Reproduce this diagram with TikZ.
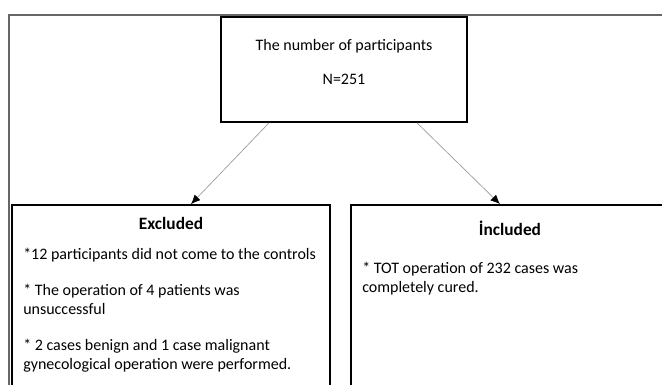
\documentclass[tikz,border=0pt]{standalone}
\usepackage{fontspec}
\setmainfont{Carlito}
\usetikzlibrary{arrows.meta}

\begin{document}
\begin{tikzpicture}[
  x=0.75pt, y=-0.75pt,
  box/.style={rectangle, draw, line width=1.3pt, minimum width=#1, inner sep=0pt},
  body/.style={inner sep=0pt, align=left, font=\fontsize{12}{14}\selectfont},
  head/.style={inner sep=0pt, font=\fontsize{13}{15}\selectfont\bfseries},
  arrow/.style={-{Latex[length=7pt,width=6pt,color=black]}, line width=0.5pt, draw=gray!80}
]
  \useasboundingbox (0,0) rectangle (662,385);
  \clip (0,0) rectangle (662,385);

  % outer frame, cut by the page edge
  \draw[gray!80!black, line width=1.3pt] (9,15) rectangle (720,430);

  \node[box=184.5pt, minimum height=78.75pt] (total) at (344,69.5) {};
  \node[box=238.5pt, minimum height=161.25pt] (excl) at (171,312.5) {};
  \node[box=238.5pt, minimum height=161.25pt] (incl) at (510,312.5) {};

  % base anchor = baseline of the last line
  \node[body, align=center, anchor=base] (totaltext) at (344,85)
    {The number of participants\\[12pt] N=251};

  \node[head, anchor=base] (exclhead) at (171,230) {Excluded};
  \node[body, anchor=base west] (excltext) at (23,369)
    {*12 participants did not come to the controls\\[13pt]
     * The operation of 4 patients was\\ unsuccessful\\[13pt]
     * 2 cases benign and 1 case malignant\\ gynecological operation were performed.};

  \node[head, anchor=base] (inclhead) at (510,236) {İncluded};
  \node[body, anchor=base west] (incltext) at (362,292)
    {* TOT operation of 232 cases was\\ completely cured.};

  \draw[arrow] ([xshift=-56.25pt]total.south) -- ([xshift=15pt]excl.north);
  \draw[arrow] ([xshift=54.75pt]total.south) -- ([xshift=-7.5pt]incl.north);
\end{tikzpicture}
\end{document}
